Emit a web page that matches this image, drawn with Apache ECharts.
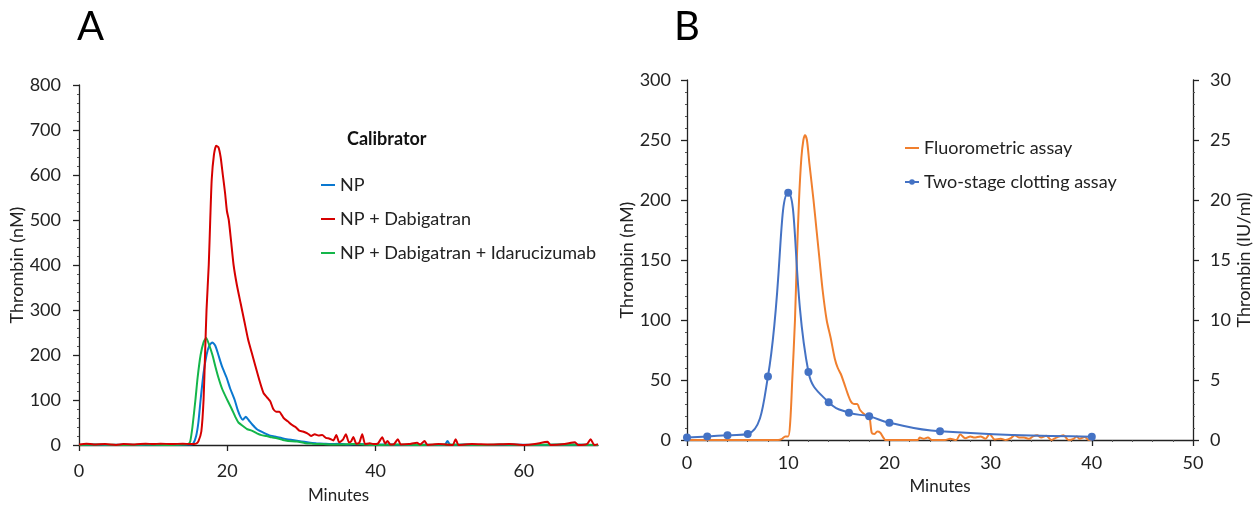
<!DOCTYPE html>
<html><head><meta charset="utf-8">
<script src="https://cdn.jsdelivr.net/npm/echarts@6/dist/echarts.min.js"></script>
<style>html,body{margin:0;padding:0;background:#fff}#c{width:1259px;height:509px}</style>
</head><body><div id="c"></div>
<script>
// ---------- Panel A data (minutes, thrombin nM) ----------
const namesA = ['NP', 'NP + Dabigatran', 'NP + Dabigatran + Idarucizumab'];
const npCurve = [[0,0],[2,1],[4,0],[6,1],[8,0],[10,1],[12,0],[14,1],[15.0,1],[15.4,3],[15.8,20],[16.1,50],[16.4,100],[16.8,160],[17.2,200],[17.6,222],[18.0,228],[18.4,220],[18.8,200],[19.3,174],[19.9,150],[20.4,125],[21.0,100],[21.4,78],[21.8,62],[22.1,56],[22.5,63],[22.9,55],[23.4,45],[24.0,35],[24.8,28],[25.6,22],[26.4,19],[27.2,16],[28.0,13],[28.8,11],[29.6,9],[30.4,7],[31.2,5],[32,4],[33,3],[34,2],[35,3],[36,1],[38,2],[40,1],[42,1],[44,0],[46,1],[48,0],[49.3,0],[49.7,9],[50.1,0],[52,1],[55,0],[58,1],[62,0],[66,1],[70,0]];
const npDabiCurve = [[0,1],[1,3],[2,1],[3.5,2],[5,0],[6,2],[7.5,1],[9,3],[10,2],[11,3],[12.5,2],[14,3],[15,2],[15.8,3],[16.1,8],[16.5,30],[16.8,100],[17.0,200],[17.2,300],[17.5,400],[17.7,500],[17.9,590],[18.2,645],[18.5,665],[18.8,662],[19.1,640],[19.4,600],[19.7,560],[19.95,520],[20.2,500],[20.5,455],[20.85,400],[21.3,355],[21.8,315],[22.3,275],[22.8,235],[23.3,205],[23.8,175],[24.4,140],[24.9,115],[25.4,105],[25.8,97],[26.2,80],[26.6,74],[27.0,74],[27.6,60],[28.2,52],[28.7,45],[29.2,40],[29.7,32],[30.2,30],[30.8,26],[31.3,20],[31.8,24],[32.3,21],[32.8,22],[33.3,16],[33.8,14],[34.3,10],[34.7,22],[35.1,6],[35.6,12],[36.0,24],[36.4,6],[36.7,8],[37.0,18],[37.4,3],[37.8,5],[38.2,24],[38.6,2],[39.2,4],[39.7,2],[40.3,3],[40.9,17],[41.3,3],[41.6,9],[42.0,1],[42.5,2],[43.0,13],[43.4,1],[44.5,2],[45.6,5],[46.0,1],[46.6,9],[47.0,0],[48.5,2],[50.4,0],[50.8,13],[51.2,0],[53,2],[55.5,1],[58,2],[60,0],[61.5,2],[63.2,7],[63.6,0],[65.5,2],[66.9,6],[67.3,0],[68.5,2],[69.0,13],[69.5,0],[70,2]];
const npDabiIdaCurve = [[0,0],[3,1],[6,0],[9,1],[12,0],[14,1],[14.7,2],[15.0,8],[15.3,40],[15.7,100],[16.0,150],[16.4,200],[16.8,228],[17.16,238],[17.5,225],[18.0,200],[18.4,174],[18.8,150],[19.3,125],[20.0,100],[20.6,80],[21.1,62],[21.5,50],[22.2,41],[22.7,35],[23.3,32],[24.0,26],[24.6,22],[25.3,20],[26.0,17],[26.7,15],[27.5,11],[28.2,9],[29.4,8],[30.5,4],[31.5,3],[33,2],[35,1],[37,2],[40,0],[43,1],[46,0],[50,1],[54,0],[57,1],[60,0],[65,1],[70,0]];
const ticksAx = [0, 20, 40, 60];

// ---------- Panel B data ----------
const namesB = ['Fluorometric assay', 'Two-stage clotting assay'];
const fluoroCurve = [[0,0],[9.0,0],[9.4,1],[9.7,3],[10.0,3],[10.2,15],[10.4,50],[10.67,100],[10.85,150],[11.07,200],[11.3,235],[11.5,250],[11.66,254],[11.85,250],[12.1,230],[12.5,200],[12.8,175],[13.1,150],[13.4,125],[13.8,100],[14.2,85],[14.6,68],[14.9,60],[15.2,55],[15.5,48],[15.9,38],[16.2,32],[16.5,30],[16.8,30],[17.1,25],[17.6,21],[18.0,20],[18.25,6],[18.5,5],[18.8,7],[19.1,6],[19.4,2],[19.6,0],[22.8,0],[23.0,2],[23.4,1],[23.8,2],[24.2,0],[25.5,0],[26.0,1],[26.6,0],[27.0,4.5],[27.5,1.5],[28.0,3],[28.4,2],[29.0,3],[29.5,1],[29.9,5],[30.4,0.5],[31.0,1],[31.5,0],[32.0,1.5],[32.4,4],[32.8,2],[33.3,2],[33.8,1],[34.2,3],[34.6,4],[35.0,2],[35.5,3.5],[36.0,0],[36.5,2],[37.2,4],[37.7,0],[38.2,1],[38.5,3],[38.8,1],[39.3,2.5],[39.7,0],[40,0]];
const clotTimes = [0, 2, 4, 6, 8, 10, 12, 14, 16, 18, 20, 25, 40];
const clotIU = [0.2, 0.3, 0.4, 0.5, 5.3, 20.6, 5.67, 3.14, 2.28, 1.97, 1.44, 0.72, 0.28];

const FONT = 'Lato';
const TXT = '#222';
const AX = '#222';
const FS = 18;

function axisCommon(extra) {
  return Object.assign({
    axisLine: { show: true, onZero: false, lineStyle: { color: AX, width: 1.3 } },
    axisTick: { show: true, inside: false, length: 6, lineStyle: { color: AX, width: 1.3 } },
    minorTick: { show: true, splitNumber: 5, length: 2, lineStyle: { color: '#555', width: 1 } },
    splitLine: { show: false },
    nameTextStyle: { color: TXT, fontFamily: FONT, fontSize: FS },
    nameLocation: 'middle'
  }, extra);
}
const lbl = (m, extra) => Object.assign({ color: TXT, fontFamily: FONT, fontSize: FS, margin: m }, extra || {});
const legText = { fontFamily: FONT, fontSize: FS, color: TXT, lineHeight: 22 };

const chart = echarts.init(document.getElementById('c'), null, { renderer: 'canvas' });
chart.setOption({
  backgroundColor: '#fff',
  animation: false,
  title: [
    { text: 'A', left: 72, top: 2, textStyle: { fontFamily: FONT, fontSize: 40, fontWeight: 'normal', color: '#000' } },
    { text: 'B', left: 669, top: 2, textStyle: { fontFamily: FONT, fontSize: 40, fontWeight: 'normal', color: '#000' } }
  ],
  graphic: [
    { type: 'text', left: 347, top: 130, style: { text: 'Calibrator', font: 'bold 18px Lato', fill: '#111' } }
  ],
  grid: [
    { left: 79, top: 85, width: 519, height: 360 },
    { left: 687, top: 80, width: 506, height: 360 }
  ],
  legend: [
    { data: namesA, orient: 'vertical', left: 320, top: 174, padding: 0, itemWidth: 14, itemHeight: 2, itemGap: 12,
      textStyle: legText },
    { data: [namesB[0]], orient: 'vertical', left: 904, top: 137, padding: 0, itemWidth: 14, itemHeight: 2,
      textStyle: legText },
    { data: [namesB[1]], orient: 'vertical', left: 904, top: 171, padding: 0, itemWidth: 14, itemHeight: 7,
      textStyle: legText }
  ],
  xAxis: [
    axisCommon({ gridIndex: 0, type: 'value', min: 0, max: 70, interval: 20, name: 'Minutes', nameGap: 42,
      nameTextStyle: { color: TXT, fontFamily: FONT, fontSize: 17 },
      axisLabel: lbl(17, { customValues: ticksAx }),
      axisTick: { show: true, length: 6, lineStyle: { color: AX, width: 1.3 }, customValues: ticksAx },
      minorTick: { show: false } }),
    axisCommon({ gridIndex: 1, type: 'value', min: 0, max: 50, interval: 10, name: 'Minutes', nameGap: 38,
      nameTextStyle: { color: TXT, fontFamily: FONT, fontSize: 17 },
      axisLabel: lbl(14) })
  ],
  yAxis: [
    axisCommon({ gridIndex: 0, type: 'value', min: 0, max: 800, interval: 100, name: 'Thrombin (nM)', nameGap: 52,
      axisLabel: lbl(18) }),
    axisCommon({ gridIndex: 1, type: 'value', min: 0, max: 300, interval: 50, name: 'Thrombin (nM)', nameGap: 48,
      axisLabel: lbl(16) }),
    axisCommon({ gridIndex: 1, type: 'value', position: 'right', min: 0, max: 30, interval: 5, name: 'Thrombin (IU/ml)', nameGap: 41,
      axisLabel: lbl(17) })
  ],
  series: [
    { name: namesA[0], type: 'line', xAxisIndex: 0, yAxisIndex: 0, data: npCurve, symbol: 'none', smooth: 0.2,
      lineStyle: { color: '#0a78d0', width: 2 }, itemStyle: { color: '#0a78d0' } },
    { name: namesA[2], type: 'line', xAxisIndex: 0, yAxisIndex: 0, data: npDabiIdaCurve, symbol: 'none', smooth: 0.2,
      lineStyle: { color: '#14b64a', width: 2 }, itemStyle: { color: '#14b64a' } },
    { name: namesA[1], type: 'line', xAxisIndex: 0, yAxisIndex: 0, data: npDabiCurve, symbol: 'none', smooth: 0.2,
      lineStyle: { color: '#d60000', width: 2 }, itemStyle: { color: '#d60000' } },
    { name: namesB[0], type: 'line', xAxisIndex: 1, yAxisIndex: 1, data: fluoroCurve, symbol: 'none', smooth: 0.3,
      lineStyle: { color: '#f07f2e', width: 2 }, itemStyle: { color: '#f07f2e' } },
    { name: namesB[1], type: 'line', xAxisIndex: 1, yAxisIndex: 2, data: clotTimes.map((t, i) => [t, clotIU[i]]),
      symbol: 'circle', symbolSize: 8, smooth: 0.45,
      lineStyle: { color: '#4472c4', width: 2 }, itemStyle: { color: '#4472c4' } }
  ]
});
</script>
</body></html>
